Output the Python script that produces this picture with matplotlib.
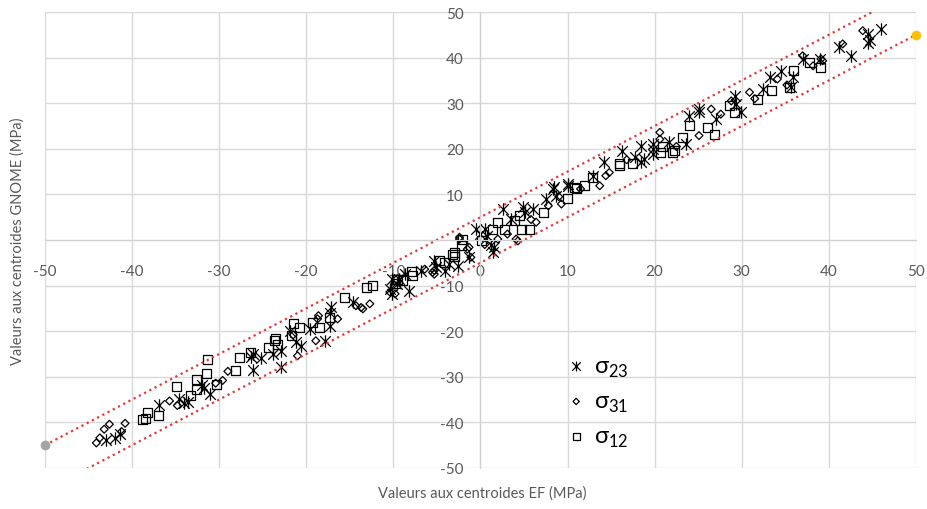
import matplotlib
matplotlib.use('Agg')
import matplotlib.pyplot as plt
from matplotlib.path import Path
import numpy as np

plt.rcParams['font.family'] = ['Lato', 'DejaVu Sans']
plt.rcParams['mathtext.fontset'] = 'custom'
plt.rcParams['mathtext.rm'] = 'Lato'

# sigma 23 (asterisks)
s23_x = [-43.0, -42.0, -41.4, -36.9, -34.6, -33.6, -34.0, -31.7, -31.1, -32.0,
         -26.3, -25.2, -26.1, -26.1, -22.9, -23.8, -22.9, -21.9, -21.2, -20.6,
         -19.6, -17.9, -17.3, -17.3, -17.1, -14.6, -10.4, -10.1, -10.1, -9.6,
         -9.3, -8.7, -8.2, -6.8, -5.3, -5.1, -4.1, -3.6, -2.6, -1.3,
         -0.5, 0.5, 0.7, -0.1, 1.2, 1.6, 1.4, 2.6, 3.5, 4.9,
         5.1, 6.0, 7.5, 8.3, 8.5, 8.7, 10.0, 10.0, 12.9, 14.2,
         16.3, 17.7, 18.4, 18.8, 19.8, 19.8, 18.4, 19.8, 21.7, 23.6,
         24.0, 25.1, 25.1, 27.1, 29.2, 29.4, 29.9, 32.4, 33.2, 34.5,
         35.7, 35.9, 37.0, 39.0, 41.2, 42.6, 44.5, 44.7, 44.5, 46.0]
s23_y = [-43.9, -43.5, -42.6, -36.2, -34.9, -35.5, -35.8, -32.5, -33.8, -31.8,
         -25.7, -25.9, -25.0, -28.5, -27.9, -25.0, -24.3, -19.9, -22.4, -23.2,
         -19.5, -22.1, -15.9, -18.8, -14.8, -13.5, -10.7, -8.6, -11.8, -9.6,
         -8.6, -7.5, -11.1, -6.7, -4.5, -5.9, -6.8, -5.3, -5.6, -3.8,
         2.4, 2.4, 0.9, 1.3, -1.2, -1.6, -2.7, 6.8, 4.6, 7.2,
         6.1, 6.8, 9.0, 11.2, 11.6, 9.7, 12.3, 11.9, 14.1, 17.0,
         19.6, 18.1, 20.7, 17.8, 20.0, 18.9, 17.0, 21.1, 21.4, 21.1,
         27.3, 28.0, 28.7, 26.5, 31.6, 29.8, 28.0, 33.1, 35.7, 37.1,
         33.5, 35.7, 39.7, 39.7, 42.3, 40.4, 43.2, 43.8, 45.2, 46.3]

# sigma 31 (diamonds)
s31_x = [-44.1, -43.7, -43.2, -42.6, -41.2, -40.8, -35.7, -34.8, -30.4, -29.6,
         -29.0, -21.0, -21.5, -18.9, -18.7, -18.6, -16.4, -14.3, -13.7, -13.5,
         -12.7, -10.4, -9.8, -6.4, -5.5, -5.3, -5.3, -2.4, -2.4, -1.5,
         -1.3, -1.1, 0.5, 2.0, 3.1, 4.1, 4.3, 6.4, 5.8, 7.8,
         9.0, 9.3, 11.5, 13.7, 14.4, 14.8, 16.8, 20.6, 20.6, 22.5,
         25.1, 26.5, 27.6, 28.8, 30.9, 31.5, 34.1, 35.2, 37.0, 38.2,
         39.3, 39.1, 41.6, 43.9]
s31_y = [-44.5, -43.4, -41.5, -40.4, -42.0, -40.2, -35.3, -36.3, -31.4, -30.8,
         -28.8, -25.4, -20.8, -22.1, -17.3, -16.6, -17.3, -14.4, -14.8, -15.1,
         -14.0, -11.4, -11.8, -6.4, -7.1, -6.7, -7.5, 0.2, 0.6, -2.0,
         -1.6, -3.8, -1.0, 0.2, 1.3, 0.2, -0.2, 3.9, 4.5, 7.5,
         9.5, 7.9, 11.2, 11.9, 14.1, 14.8, 17.6, 23.6, 22.1, 20.5,
         22.9, 28.7, 27.6, 30.5, 32.4, 31.0, 35.3, 34.0, 40.4, 38.2,
         39.3, 39.7, 43.0, 45.9]

# sigma 12 (squares)
s12_x = [-38.8, -38.4, -38.2, -37.0, -34.9, -33.3, -32.6, -32.6, -31.5, -31.3,
         -30.3, -28.1, -27.7, -26.4, -24.3, -23.7, -23.5, -23.3, -21.5, -21.7,
         -20.8, -19.3, -18.5, -17.3, -15.6, -13.1, -12.4, -9.8, -9.5, -9.0,
         -7.9, -7.8, -4.7, -4.1, -3.2, -3.0, -3.0, -2.2, -2.0, 0.1,
         1.4, 2.0, 2.8, 3.9, 4.5, 4.7, 5.6, 7.3, 10.0, 10.8,
         11.0, 11.9, 12.9, 16.0, 16.0, 17.5, 20.7, 20.9, 22.1, 22.3,
         23.2, 24.0, 26.1, 26.9, 28.6, 29.2, 31.8, 33.4, 35.5, 36.0,
         37.8, 39.1]
s12_y = [-39.3, -39.1, -37.8, -38.5, -32.1, -34.0, -30.6, -32.8, -29.2, -26.2,
         -31.6, -28.7, -25.7, -24.6, -23.5, -22.1, -21.7, -23.0, -18.4, -21.0,
         -19.1, -18.0, -19.1, -17.0, -12.6, -10.4, -10.0, -9.6, -8.6, -8.8,
         -7.0, -7.8, -4.6, -4.9, -3.1, -3.7, -2.7, -1.2, 0.2, -0.1,
         2.4, 3.9, 2.4, 4.2, 5.3, 2.4, 2.4, 6.1, 9.0, 11.6,
         11.2, 11.9, 13.8, 16.7, 16.3, 16.7, 19.2, 20.4, 19.2, 19.6,
         22.5, 25.1, 24.7, 23.2, 29.5, 28.0, 30.9, 32.7, 33.5, 37.1,
         39.0, 37.9]

# +/- 5 MPa band
band_x = [-50, 50]
band_up = [-45, 55]
band_lo = [-55, 45]

ticks = np.arange(-50, 51, 10)

# Excel-like star: an X with a vertical bar through it
star = Path([(0, -1), (0, 1), (-0.85, -0.85), (0.85, 0.85), (-0.85, 0.85), (0.85, -0.85)],
            [Path.MOVETO, Path.LINETO] * 3)

fig = plt.figure(figsize=(9.27, 5.10), dpi=100)
ax = fig.add_axes([0.0485, 0.0804, 0.9395, 0.8941])

ax.set_xlim(-50, 50)
ax.set_ylim(-50, 50)
ax.set_xticks(ticks)
ax.set_yticks(ticks)
ax.set_xticklabels([str(t) for t in ticks])
ax.set_yticklabels(['' if t == 0 else str(t) for t in ticks])

ax.set_axisbelow(True)
ax.grid(color='#d9d9d9', linewidth=1)
for s in ['top', 'right']:
    ax.spines[s].set_visible(False)
ax.spines['left'].set_position('zero')
ax.spines['bottom'].set_position('zero')
ax.spines['left'].set_color('#d0d0d0')
ax.spines['bottom'].set_color('#d0d0d0')
ax.tick_params(length=0, labelsize=11, labelcolor='#595959')
ax.tick_params(axis='x', pad=17)
ax.tick_params(axis='y', pad=12)

# band lines
ax.plot(band_x, band_up, color='#e2383c', linestyle=':', linewidth=1.6)
ax.plot(band_x, band_lo, color='#e2383c', linestyle=':', linewidth=1.6)
ax.plot(band_x[0], band_up[0], 'o', color='#a5a5a5', markersize=6, clip_on=False)
ax.plot(band_x[1], band_lo[1], 'o', color='#ffc000', markersize=6, clip_on=False)

ax.scatter(s23_x, s23_y, marker=star, s=80, color='black', linewidths=0.9,
           label='σ$_{\\mathregular{23}}$')
ax.scatter(s31_x, s31_y, marker='D', s=16, facecolors='none', edgecolors='black',
           linewidths=0.9, label='σ$_{\\mathregular{31}}$')
ax.scatter(s12_x, s12_y, marker='s', s=42, facecolors='none', edgecolors='black',
           linewidths=0.9, label='σ$_{\\mathregular{12}}$')

leg = ax.legend(loc='upper left', bbox_to_anchor=(0.572, 0.293), frameon=False,
                fontsize=17, labelspacing=0.5, handlelength=1.0,
                handletextpad=0.25, markerscale=0.8)

fig.text(0.52, 1 - 494 / 510, 'Valeurs aux centroides EF (MPa)', ha='center',
         va='center', fontsize=10.5, color='#595959')
fig.text(0.019, 1 - 241 / 510, 'Valeurs aux centroides GNOME (MPa)', ha='center',
         va='center', rotation=90, fontsize=10.5, color='#595959')

plt.savefig('out.png', dpi=100, facecolor='white')
